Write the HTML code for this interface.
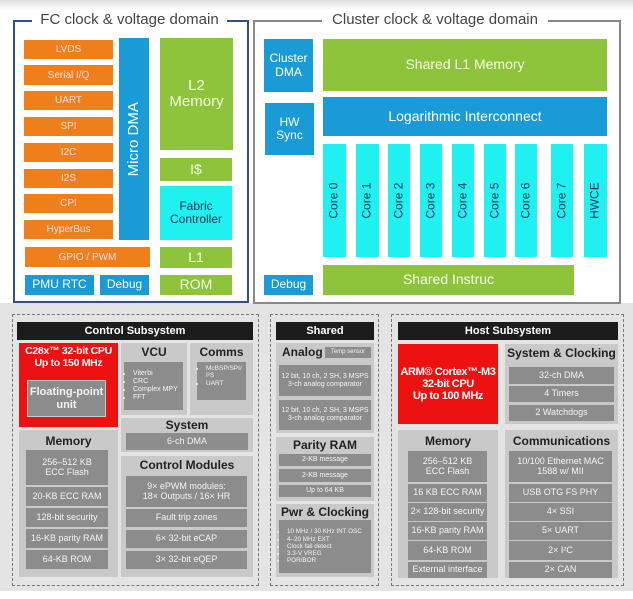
<!DOCTYPE html>
<html><head><meta charset="utf-8"><style>
body{margin:0;width:633px;height:599px;position:relative;background:#fff;font-family:"Liberation Sans",sans-serif;overflow:hidden}
.a{position:absolute;box-sizing:border-box;display:flex;align-items:center;justify-content:center;text-align:center;line-height:1.1}
.o{background:#ef7f1a;color:#fde;font-size:10px}
.b{background:#1a9ad6;color:#fff;font-size:12px}
.g{background:#8dc43c;color:#f4ffe0;font-size:13px}
.c{background:#1ff0f0;color:#135;font-size:12px}
.core{background:#1ff0f0;color:#135;font-size:12px}
.core span{transform:rotate(-90deg);white-space:nowrap}
.p{background:#c9c9c9}
.i{background:#8c8c8c;color:#f4f4f4;font-size:9px}
.t{color:#222;font-weight:bold;font-size:12px}
.h{background:#1c1c1c;color:#fff;font-weight:bold;font-size:11px}
.r{background:#ee1111;color:#fff;font-weight:bold;font-size:11px}
.d{border:1.5px dashed #777}
ul{margin:0;padding-left:9px;text-align:left;font-size:7px;line-height:1.15}
</style></head><body>
<div class="a" style="left:0;top:0;width:633px;height:10px;background:linear-gradient(#ddd,#fff)"></div>
<div class="a" style="left:0;top:303px;width:633px;height:288px;background:#e4e4e4"></div>
<!-- FC -->
<div class="a" style="left:13px;top:20px;width:236px;height:283px;border:2px solid #2f4f8f"></div>
<div class="a" style="left:32px;top:10px;width:195px;height:20px;background:#fff;color:#444;font-size:15px">FC clock &amp; voltage domain</div>
<div class="a o" style="left:24px;top:40px;width:89px;height:19px">LVDS</div>
<div class="a o" style="left:24px;top:65px;width:89px;height:20px">Serial I/Q</div>
<div class="a o" style="left:24px;top:91px;width:89px;height:19px">UART</div>
<div class="a o" style="left:24px;top:117px;width:89px;height:19px">SPI</div>
<div class="a o" style="left:24px;top:143px;width:89px;height:19px">I2C</div>
<div class="a o" style="left:24px;top:169px;width:89px;height:19px">I2S</div>
<div class="a o" style="left:24px;top:194px;width:89px;height:19px">CPI</div>
<div class="a o" style="left:24px;top:220px;width:89px;height:19px">HyperBus</div>
<div class="a o" style="left:25px;top:247px;width:125px;height:20px">GPIO / PWM</div>
<div class="a b" style="left:25px;top:275px;width:69px;height:20px">PMU RTC</div>
<div class="a b" style="left:100px;top:275px;width:49px;height:20px">Debug</div>
<div class="a b" style="left:119px;top:38px;width:30px;height:202px"><span style="transform:rotate(-90deg);white-space:nowrap;font-size:15px">Micro DMA</span></div>
<div class="a g" style="left:160px;top:38px;width:73px;height:112px;font-size:15px">L2<br>Memory</div>
<div class="a g" style="left:160px;top:158px;width:72px;height:23px;font-size:14px">I$</div>
<div class="a c" style="left:160px;top:186px;width:72px;height:54px">Fabric<br>Controller</div>
<div class="a g" style="left:160px;top:247px;width:72px;height:21px;font-size:14px">L1</div>
<div class="a g" style="left:160px;top:275px;width:72px;height:20px;font-size:14px">ROM</div>
<!-- Cluster -->
<div class="a" style="left:253px;top:20px;width:368px;height:284px;border:2px solid #888"></div>
<div class="a" style="left:322px;top:10px;width:226px;height:20px;background:#fff;color:#444;font-size:15px">Cluster clock &amp; voltage domain</div>
<div class="a b" style="left:264px;top:39px;width:49px;height:53px">Cluster<br>DMA</div>
<div class="a b" style="left:265px;top:103px;width:49px;height:52px">HW<br>Sync</div>
<div class="a b" style="left:264px;top:275px;width:49px;height:20px">Debug</div>
<div class="a g" style="left:323px;top:39px;width:284px;height:52px;font-size:14px">Shared L1 Memory</div>
<div class="a b" style="left:323px;top:97px;width:284px;height:39px;font-size:14px">Logarithmic Interconnect</div>
<div class="a core" style="left:323px;top:144px;width:23px;height:113px"><span>Core 0</span></div>
<div class="a core" style="left:356px;top:144px;width:23px;height:113px"><span>Core 1</span></div>
<div class="a core" style="left:388px;top:144px;width:22px;height:113px"><span>Core 2</span></div>
<div class="a core" style="left:420px;top:144px;width:22px;height:113px"><span>Core 3</span></div>
<div class="a core" style="left:452px;top:144px;width:22px;height:113px"><span>Core 4</span></div>
<div class="a core" style="left:484px;top:144px;width:22px;height:113px"><span>Core 5</span></div>
<div class="a core" style="left:515px;top:144px;width:22px;height:113px"><span>Core 6</span></div>
<div class="a core" style="left:551px;top:144px;width:22px;height:113px"><span>Core 7</span></div>
<div class="a core" style="left:584px;top:144px;width:23px;height:113px"><span>HWCE</span></div>
<div class="a g" style="left:323px;top:265px;width:251px;height:30px;font-size:14px">Shared Instruc</div>
<!-- Control -->
<div class="a d" style="left:12px;top:314px;width:247px;height:272px"></div>
<div class="a h" style="left:17px;top:322px;width:236px;height:18px">Control Subsystem</div>
<div class="a r" style="left:19px;top:343px;width:99px;height:84px;flex-direction:column;justify-content:flex-start;padding-top:3px;font-size:10.5px;letter-spacing:-0.3px">C28x™ 32-bit CPU<br>Up to 150 MHz</div>
<div class="a i" style="left:27px;top:380px;width:79px;height:37px;border:1px solid #ccc;font-size:11px;font-weight:bold">Floating-point<br>unit</div>
<div class="a p" style="left:121px;top:343px;width:66px;height:72px;align-items:flex-start"><span class="t" style="margin-top:3px">VCU</span></div>
<div class="a i" style="left:124px;top:362px;width:59px;height:48px;justify-content:flex-start"><ul><li>Viterbi</li><li>CRC</li><li>Complex MPY</li><li>FFT</li></ul></div>
<div class="a p" style="left:190px;top:343px;width:63px;height:72px;align-items:flex-start"><span class="t" style="margin-top:3px">Comms</span></div>
<div class="a i" style="left:197px;top:362px;width:49px;height:38px;justify-content:flex-start;align-items:flex-start"><ul style="margin-top:3px;font-size:6.5px"><li>McBSP/SPI/ I²S</li><li>UART</li></ul></div>
<div class="a p" style="left:19px;top:430px;width:99px;height:147px;align-items:flex-start"><span class="t" style="margin-top:5px">Memory</span></div>
<div class="a i" style="left:26px;top:450px;width:82px;height:35px">256–512 KB<br>ECC Flash</div>
<div class="a i" style="left:26px;top:487px;width:82px;height:19px">20-KB ECC RAM</div>
<div class="a i" style="left:26px;top:508px;width:82px;height:19px">128-bit security</div>
<div class="a i" style="left:26px;top:529px;width:82px;height:19px">16-KB parity RAM</div>
<div class="a i" style="left:26px;top:550px;width:82px;height:19px">64-KB ROM</div>
<div class="a p" style="left:121px;top:418px;width:132px;height:34px;align-items:flex-start"><span class="t" style="margin-top:1px">System</span></div>
<div class="a i" style="left:126px;top:433px;width:122px;height:17px">6-ch DMA</div>
<div class="a p" style="left:121px;top:456px;width:132px;height:121px;align-items:flex-start"><span class="t" style="margin-top:3px">Control Modules</span></div>
<div class="a i" style="left:126px;top:476px;width:121px;height:31px">9× ePWM modules:<br>18× Outputs / 16× HR</div>
<div class="a i" style="left:126px;top:509px;width:121px;height:18px">Fault trip zones</div>
<div class="a i" style="left:126px;top:530px;width:121px;height:18px">6× 32-bit eCAP</div>
<div class="a i" style="left:126px;top:551px;width:121px;height:18px">3× 32-bit eQEP</div>
<!-- Shared -->
<div class="a d" style="left:270px;top:314px;width:109px;height:272px"></div>
<div class="a h" style="left:276px;top:322px;width:98px;height:18px">Shared</div>
<div class="a p" style="left:276px;top:343px;width:98px;height:90px;align-items:flex-start;justify-content:flex-start"><span class="t" style="margin:3px 0 0 6px">Analog</span></div>
<div class="a i" style="left:325px;top:347px;width:46px;height:11px;font-size:6px">Temp sensor</div>
<div class="a i" style="left:279px;top:365px;width:92px;height:31px;font-size:7px">12 bit, 10 ch, 2 SH, 3 MSPS<br>3-ch analog comparator</div>
<div class="a i" style="left:279px;top:400px;width:92px;height:30px;font-size:7px">12 bit, 10 ch, 2 SH, 3 MSPS<br>3-ch analog comparator</div>
<div class="a p" style="left:276px;top:437px;width:98px;height:64px;align-items:flex-start"><span class="t" style="margin-top:2px">Parity RAM</span></div>
<div class="a i" style="left:279px;top:454px;width:92px;height:12px;font-size:7px">2-KB message</div>
<div class="a i" style="left:279px;top:469px;width:92px;height:13px;font-size:7px">2-KB message</div>
<div class="a i" style="left:279px;top:485px;width:92px;height:12px;font-size:7px">Up to 64 KB</div>
<div class="a p" style="left:276px;top:504px;width:98px;height:73px;align-items:flex-start"><span class="t" style="margin-top:2px">Pwr &amp; Clocking</span></div>
<div class="a i" style="left:279px;top:520px;width:92px;height:53px;justify-content:flex-start"><ul style="font-size:6.3px;padding-left:8px;white-space:nowrap"><li>10 MHz / 30 KHz INT OSC</li><li>4–20 MHz EXT</li><li>Clock fail detect</li><li>3.3-V VREG</li><li>POR/BOR</li></ul></div>
<!-- Host -->
<div class="a d" style="left:391px;top:314px;width:233px;height:272px"></div>
<div class="a h" style="left:398px;top:322px;width:220px;height:18px">Host Subsystem</div>
<div class="a r" style="left:398px;top:344px;width:100px;height:80px;font-size:11px;letter-spacing:-0.4px;white-space:nowrap">ARM® Cortex™-M3<br>32-bit CPU<br>Up to 100 MHz</div>
<div class="a p" style="left:505px;top:344px;width:113px;height:80px;align-items:flex-start"><span class="t" style="margin-top:3px">System &amp; Clocking</span></div>
<div class="a i" style="left:509px;top:367px;width:105px;height:17px">32-ch DMA</div>
<div class="a i" style="left:509px;top:386px;width:105px;height:16px">4 Timers</div>
<div class="a i" style="left:509px;top:405px;width:105px;height:16px">2 Watchdogs</div>
<div class="a p" style="left:398px;top:430px;width:100px;height:148px;align-items:flex-start"><span class="t" style="margin-top:5px">Memory</span></div>
<div class="a i" style="left:408px;top:451px;width:79px;height:31px">256–512 KB<br>ECC Flash</div>
<div class="a i" style="left:408px;top:484px;width:79px;height:18px">16 KB ECC RAM</div>
<div class="a i" style="left:408px;top:503px;width:79px;height:18px">2× 128-bit security</div>
<div class="a i" style="left:408px;top:522px;width:79px;height:18px">16-KB parity RAM</div>
<div class="a i" style="left:408px;top:541px;width:79px;height:19px">64-KB ROM</div>
<div class="a i" style="left:408px;top:562px;width:79px;height:16px">External interface</div>
<div class="a p" style="left:505px;top:430px;width:113px;height:148px;align-items:flex-start"><span class="t" style="margin-top:5px">Communications</span></div>
<div class="a i" style="left:509px;top:451px;width:103px;height:31px">10/100 Ethernet MAC<br>1588 w/ MII</div>
<div class="a i" style="left:509px;top:484px;width:103px;height:18px">USB OTG FS PHY</div>
<div class="a i" style="left:509px;top:503px;width:103px;height:18px">4× SSI</div>
<div class="a i" style="left:509px;top:522px;width:103px;height:18px">5× UART</div>
<div class="a i" style="left:509px;top:541px;width:103px;height:19px">2× I²C</div>
<div class="a i" style="left:509px;top:562px;width:103px;height:16px">2× CAN</div>
</body></html>
